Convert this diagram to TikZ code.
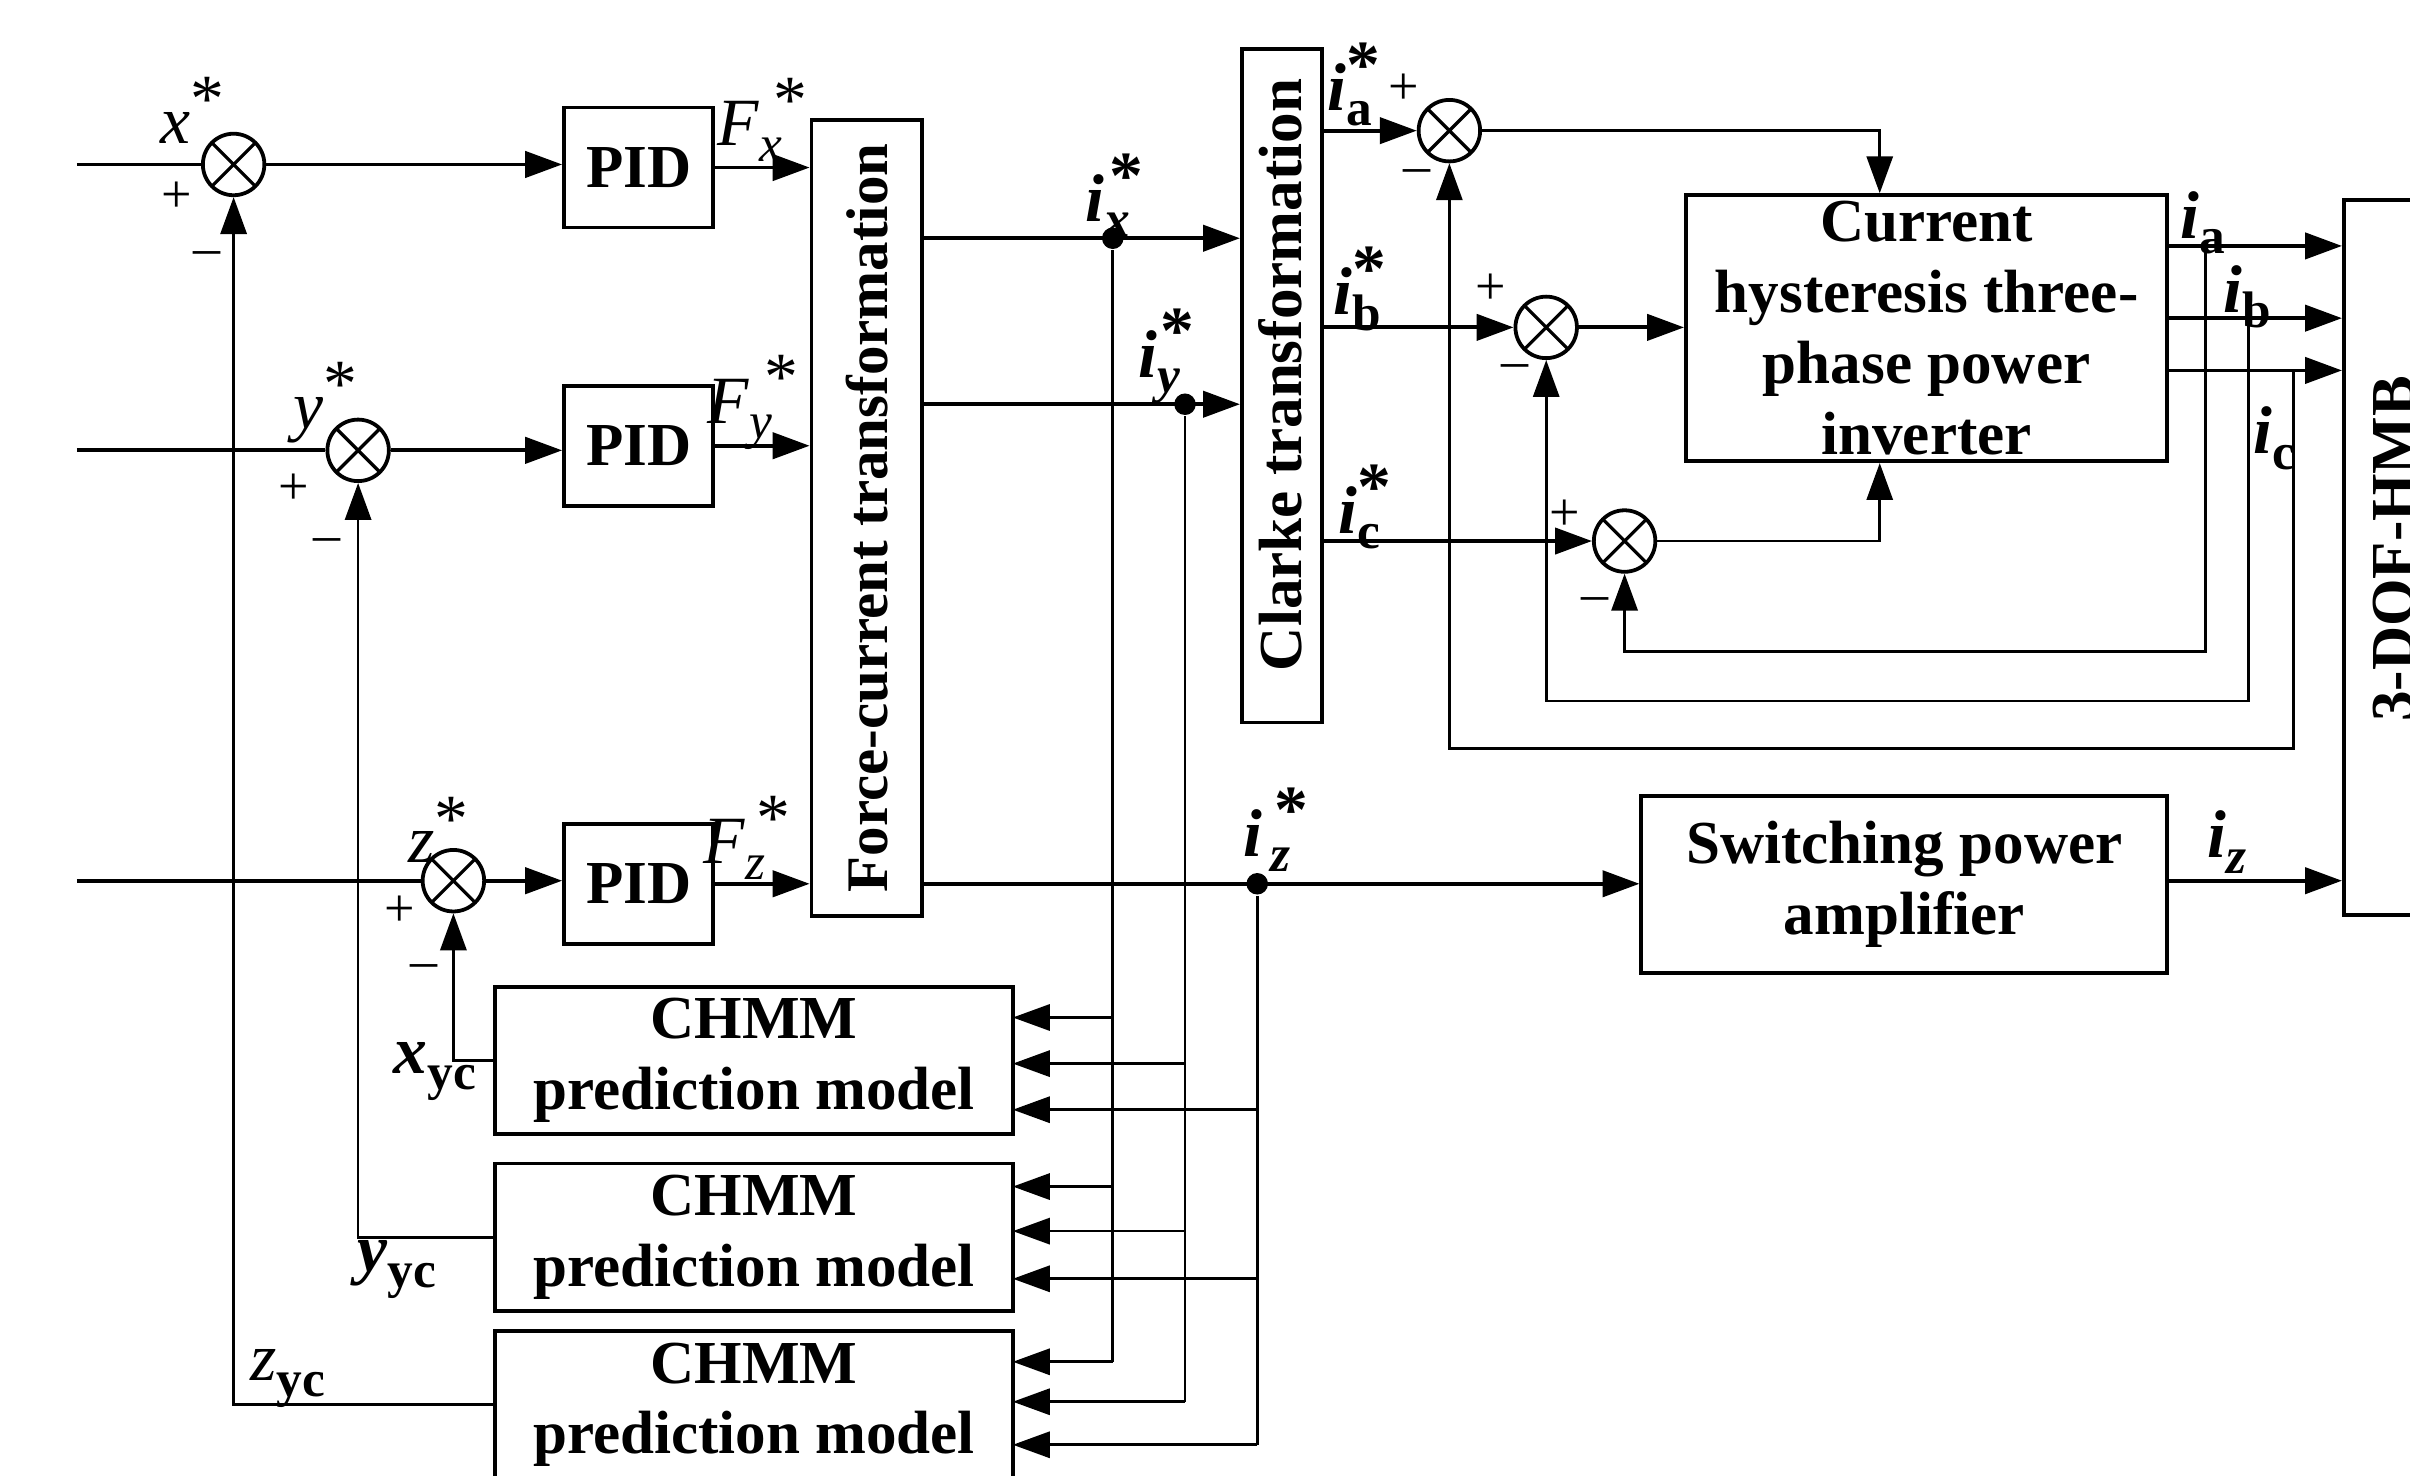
\documentclass[tikz,border=0pt]{standalone}
\usepackage{fontspec}
\setmainfont{Liberation Serif}
\usetikzlibrary{arrows.meta,calc}
% sequential subscript then star (with kern)
\newcommand{\SbSp}[4]{#1\raisebox{-0.5ex}{\fontsize{9.5}{9.5}\selectfont #2}\kern#4\raisebox{0.75ex}{#3}}
% stacked subscript / star
\newcommand{\SbSpS}[3]{#1\rlap{\raisebox{-0.5ex}{\fontsize{9.5}{9.5}\selectfont #2}}\raisebox{0.75ex}{#3}}
\begin{document}
\begin{tikzpicture}[x=0.01cm,y=-0.01cm,line width=0.5pt,
  >={Triangle[length=0.24cm,width=0.17cm]},
  box/.style={draw,line width=0.7pt,inner sep=0pt,align=center,font=\fontsize{11.3}{13.1}\selectfont\bfseries},
  btxt/.style={inner sep=0pt,font=\fontsize{11.3}{13.1}\selectfont\bfseries},
  sumn/.style={draw,circle,line width=0.7pt,minimum size=0.4cm,inner sep=0pt,
    path picture={\draw[line width=0.6pt] (path picture bounding box.south west)--(path picture bounding box.north east)
      (path picture bounding box.north west)--(path picture bounding box.south east);}},
  dotn/.style={circle,fill,inner sep=0pt,minimum size=0.14cm},
  lab/.style={inner sep=0pt,font=\fontsize{12.5}{12.5}\selectfont},
  blab/.style={inner sep=0pt,font=\fontsize{12.5}{12.5}\selectfont\bfseries},
  pm/.style={inner sep=0pt,font=\fontsize{10}{10}\selectfont},
  sig/.style={line width=0.7pt}]
\useasboundingbox (0,0) rectangle (1568,960);
\fill[white] (0,0) rectangle (1568,960);
\clip (0,0) rectangle (1568,960);

% blocks
\node[box,minimum width=0.97cm,minimum height=0.78cm] (p1) at (415.5,109) {PID};
\node[box,minimum width=0.97cm,minimum height=0.78cm] (p2) at (415.5,290) {PID};
\node[box,minimum width=0.97cm,minimum height=0.78cm] (p3) at (415.5,575) {PID};
\node[box,minimum width=0.72cm,minimum height=5.18cm] (fc) at (564,337) {};
\node[btxt,rotate=90,font=\fontsize{10.9}{12}\selectfont\bfseries] (fct) at (fc) {Force-current transformation};
\node[box,minimum width=0.52cm,minimum height=4.38cm] (clk) at (834,251) {};
\node[btxt,rotate=90] (clkt) at (833,244) {Clarke transformation};
\node[box,minimum width=3.13cm,minimum height=1.73cm] (inv) at (1253.5,213.5) {Current\\hysteresis three-\\phase power\\inverter};
\node[box,minimum width=3.42cm,minimum height=1.15cm] (amp) at (1239,575.5) {Switching power\\amplifier};
\node[box,minimum width=0.66cm,minimum height=4.65cm] (hmb) at (1558,362.5) {};
\node[btxt,rotate=90] (hmbt) at (1557,357) {3-DOF-HMB};
\node[box,minimum width=3.37cm,minimum height=0.96cm] (ch1) at (490.5,690) {CHMM\\prediction model};
\node[box,minimum width=3.37cm,minimum height=0.96cm] (ch2) at (490.5,805) {CHMM\\prediction model};
\node[box,minimum width=3.37cm,minimum height=0.96cm] (ch3) at (490.5,914) {CHMM\\prediction model};

% summing junctions
\node[sumn] (sx) at (152,107) {};
\node[sumn] (sy) at (233,293) {};
\node[sumn] (sz) at (295,573) {};
\node[sumn] (sa) at (943,85) {};
\node[sumn] (sb) at (1006,213) {};
\node[sumn] (sc) at (1057,352) {};

% branch dots
\node[dotn] (dx) at (724,155) {};
\node[dotn] (dy) at (771,263) {};
\node[dotn] (dz) at (818,575) {};

% coordinates
\coordinate (inx) at (50,107);
\coordinate (iny) at (50,293);
\coordinate (inz) at (50,573);
\coordinate (ctl) at (1223,0);
\coordinate (c1a) at (659,662);
\coordinate (c1b) at (659,692);
\coordinate (c1c) at (659,722);
\coordinate (c2a) at (659,772);
\coordinate (c2b) at (659,801);
\coordinate (c2c) at (659,832);
\coordinate (c3a) at (659,886);
\coordinate (c3b) at (659,912);
\coordinate (c3c) at (659,940);
\coordinate (oa) at (1410,160);
\coordinate (ob) at (1410,207);
\coordinate (oc) at (1410,241);
\coordinate (fa) at (1435,160);
\coordinate (fb) at (1463,207);
\coordinate (fcc) at (1492,241);
\coordinate (fa2) at (1435,424);
\coordinate (fb2) at (1463,456);
\coordinate (fc2) at (1492,487);
\coordinate (oz) at (1410,573);

% main rows
\draw[sig] (inx) -- (sx.west);
\draw[sig] (iny) -- (sy.west);
\draw[sig] (inz) -- (sz.west);
\draw[sig,->] (sx.east) -- (sx.east -| p1.west);
\draw[sig,->] (sy.east) -- (sy.east -| p2.west);
\draw[sig,->] (sz.east) -- (sz.east -| p3.west);
\draw[sig,->] (p1.east) -- (p1.east -| fc.west);
\draw[sig,->] (p2.east) -- (p2.east -| fc.west);
\draw[sig,->] (p3.east) -- (p3.east -| fc.west);

% force-current outputs
\draw[sig,->] (fc.east |- dx) -- (clk.west |- dx);
\draw[sig,->] (fc.east |- dy) -- (clk.west |- dy);
\draw[sig,->] (fc.east |- dz) -- (amp.west |- dz);

% branches to CHMM models
\draw (dx) -- (dx |- c3a);
\draw (dy) -- (dy |- c3b);
\draw (dz) -- (dz |- c3c);
\draw[->] (dx |- c1a) -- (c1a);
\draw[->] (dy |- c1b) -- (c1b);
\draw[->] (dz |- c1c) -- (c1c);
\draw[->] (dx |- c2a) -- (c2a);
\draw[->] (dy |- c2b) -- (c2b);
\draw[->] (dz |- c2c) -- (c2c);
\draw[->] (dx |- c3a) -- (c3a);
\draw[->] (dy |- c3b) -- (c3b);
\draw[->] (dz |- c3c) -- (c3c);

% CHMM feedback
\draw[->] (ch1.west) -| (sz.south);
\draw[->] (ch2.west) -| (sy.south);
\draw[->] (ch3.west) -| (sx.south);

% Clarke outputs
\draw[sig,->] (clk.east |- sa) -- (sa.west);
\draw[sig,->] (clk.east |- sb) -- (sb.west);
\draw[sig,->] (clk.east |- sc) -- (sc.west);
\draw[->] (sa.east) -| (inv.north -| ctl);
\draw[sig,->] (sb.east) -- (inv.west |- sb);
\draw[->] (sc.east) -| (inv.south -| ctl);

% inverter outputs
\draw[sig,->] (oa) -- (hmb.west |- oa);
\draw[sig,->] (ob) -- (hmb.west |- ob);
\draw[sig,->] (oc) -- (hmb.west |- oc);
\draw[->] (fa) -- (fa2) -| (sc.south);
\draw[->] (fb) -- (fb2) -| (sb.south);
\draw[->] (fcc) -- (fc2) -| (sa.south);
\draw[sig,->] (oz) -- (hmb.west |- oz);

% labels
\node[lab] (lx) at (125,72) {\textit{x}\raisebox{0.7ex}{*}};
\node[lab] (ly) at (212,262) {\textit{y}\raisebox{0.7ex}{*}};
\node[lab] (lz) at (285,540) {\textit{z}\raisebox{0.7ex}{*}};
\node[pm] at (115,128) {+};
\node[pm] at (135,168) {--};
\node[pm] at (191,318) {+};
\node[pm] at (213,355) {--};
\node[pm] at (260,593) {+};
\node[pm] at (276,632) {--};
\node[lab] (lfx) at (496,78) {\SbSp{\textit{F}}{\textit{x}}{*}{-0.12em}};
\node[lab] (lfy) at (490,262) {\SbSp{\textit{F}}{\textit{y}}{*}{-0.12em}};
\node[lab] (lfz) at (486,545) {\SbSp{\textit{F}}{\textit{z}}{*}{-0.12em}};
\node[blab] (lix) at (725,127) {\SbSp{\textit{i}}{\textit{x}}{*}{-0.3em}};
\node[blab] (liy) at (759,232) {\SbSp{\textit{i}}{\textit{y}}{*}{-0.3em}};
\node[blab] (liz) at (830,540) {\SbSp{\textit{i}}{\,\textit{z}}{*}{-0.25em}};
\node[blab] (lia) at (881,55) {\SbSpS{\textit{i}}{a}{*}};
\node[blab] (lib) at (885,188) {\SbSpS{\textit{i}}{b}{*}};
\node[blab] (lic) at (888,330) {\SbSpS{\textit{i}}{c}{*}};
\node[pm] at (913,58) {+};
\node[pm] at (970,188) {+};
\node[pm] at (1018,335) {+};
\node[pm] at (922,115) {--};
\node[pm] at (986,242) {--};
\node[pm] at (1038,393) {--};
\node[blab] (lia2) at (1433,145) {\textit{i}\raisebox{-0.5ex}{\fontsize{9.5}{9.5}\selectfont a}};
\node[blab] (lib2) at (1462,193) {\textit{i}\raisebox{-0.5ex}{\fontsize{9.5}{9.5}\selectfont b}};
\node[blab] (lic2) at (1480,285) {\textit{i}\raisebox{-0.5ex}{\fontsize{9.5}{9.5}\selectfont c}};
\node[blab] (liz2) at (1449,548) {\textit{i}\raisebox{-0.5ex}{\fontsize{9.5}{9.5}\selectfont\textit{z}}};
\node[blab] (lxyc) at (283,697) {\textit{x}\raisebox{-0.5ex}{\fontsize{9.5}{9.5}\selectfont yc}};
\node[blab] (lyyc) at (258,826) {\textit{y}\raisebox{-0.5ex}{\fontsize{9.5}{9.5}\selectfont yc}};
\node[lab] (lzyc) at (187,897) {\textit{z}\raisebox{-0.5ex}{\fontsize{9.5}{9.5}\selectfont\bfseries yc}};
\end{tikzpicture}
\end{document}
